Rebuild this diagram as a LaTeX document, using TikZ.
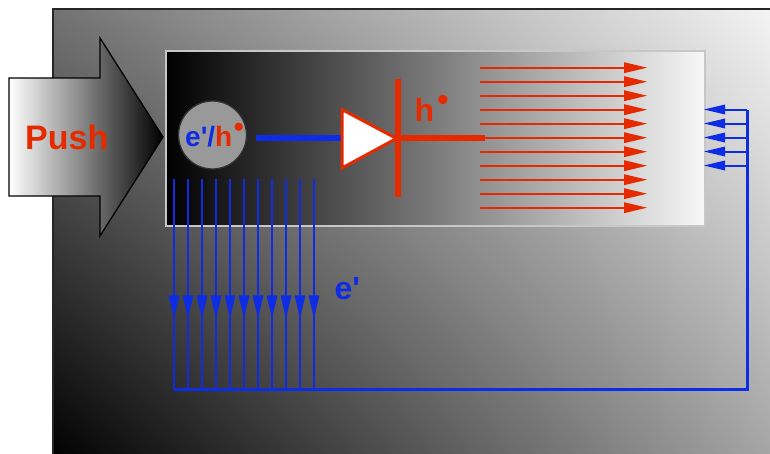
\documentclass[tikz,border=0pt]{standalone}
\usepackage{fontspec}
\setmainfont{Liberation Sans}
\usetikzlibrary{shadings}
\definecolor{pred}{RGB}{230,42,0}
\definecolor{pblue}{RGB}{14,44,228}
\tikzset{
  lbl/.style={anchor=base west, inner sep=0pt, font=\bfseries},
  redfill/.style={fill=pred},
  bluedown/.style={draw=pblue, line width=1.4pt},
  bluefill/.style={fill=pblue},
  thickred/.style={draw=pred, line width=6pt},
}
\begin{document}
\begin{tikzpicture}[x=1pt,y=-1pt]
\useasboundingbox (0,0) rectangle (770,453);
\clip (0,0) rectangle (770,453);
% outer panel
\shade[upper left=black!55, upper right=white!96!black, lower left=black, lower right=black!35] (53,9) rectangle (775,460);
\draw[line width=2pt, black!85] (53,9) rectangle (775,460);
% inner panel
\shade[left color=black, middle color=black!43, right color=white!97!black] (166,51) rectangle (705,226);
\draw[line width=1.5pt, black!22] (166,51) rectangle (705,226);
% push arrow
\path[draw=black, line width=1.3pt, line join=miter, left color=white, right color=black]
  (9,78) -- (100,78) -- (100,38) -- (163,137) -- (100,236) -- (100,196) -- (9,196) -- cycle;
\node[lbl, text=pred, font=\fontsize{34}{40}\selectfont\bfseries] (push) at (25,149) {Push};
% particle circle
\node[circle, draw=black!80, fill=black!40, line width=1.3pt, minimum size=68pt, inner sep=0pt] (c) at (212.5,135) {};
\node[lbl, font=\fontsize{28}{32}\selectfont\bfseries] (ct) at (185,146.7)
  {\textcolor{pblue}{e\textquotesingle/}\textcolor{pred}{h\raisebox{.38em}{\kern1.5pt •}}};
% connection to diode
\coordinate (bl1) at (256,138);
\coordinate (dl) at (342,138);
\draw[pblue, line width=6pt] (bl1) -- (dl);
% diode
\draw[pred, fill=white, line width=3pt, line join=miter] (342,109.5) -- (396.5,138.5) -- (342,168) -- cycle;
\coordinate (bt) at (398,79);
\coordinate (bb) at (398,197);
\coordinate (rl1) at (398,138);
\coordinate (rl2) at (485,138);
\draw[thickred] (bt) -- (bb);
\draw[thickred] (rl1) -- (rl2);
\node[lbl, text=pred, font=\fontsize{32}{38}\selectfont\bfseries] (hl) at (414.5,121.7) {h\raisebox{.35em}{\kern3pt •}};
% red arrows
\foreach \k in {0,...,10} {
  \pgfmathsetmacro{\yy}{67.7+14*\k}
  \fill[redfill] (480,\yy-1.1) rectangle (626,\yy+1.1);
  \fill[redfill] (647,\yy) -- (624,\yy-5.5) -- (624,\yy+5.5) -- cycle;
}
% blue down arrows
\foreach \k in {0,...,10} {
  \pgfmathsetmacro{\xx}{174+14*\k}
  \draw[bluedown] (\xx,179) -- (\xx,389);
  \fill[bluefill] (\xx,318.3) -- (\xx-5.5,295.3) -- (\xx+5.5,295.3) -- cycle;
}
% return loop
\coordinate (lp1) at (174,389);
\coordinate (lp2) at (747,389);
\coordinate (lp3) at (747,109.5);
\draw[pblue, line width=3pt, line join=miter] (lp1) -- (lp2) -- (lp3);
\foreach \k in {0,...,4} {
  \pgfmathsetmacro{\yy}{109.5+14*\k}
  \fill[bluefill] (723,\yy-1) rectangle (747,\yy+1);
  \fill[bluefill] (704,\yy) -- (725,\yy-5) -- (725,\yy+5) -- cycle;
}
\node[lbl, text=pblue, font=\fontsize{32}{38}\selectfont\bfseries] (el) at (334.5,299) {e\textquotesingle};
\end{tikzpicture}
\end{document}
